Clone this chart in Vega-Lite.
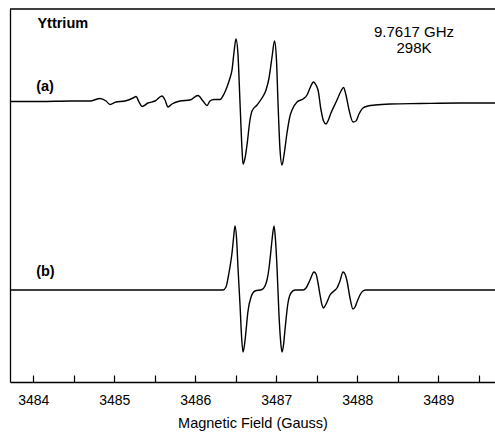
{
  "$schema": "https://vega.github.io/schema/vega-lite/v6.json",
  "width": 485,
  "height": 373,
  "autosize": {"type": "none"},
  "padding": {"left": 10, "top": 9, "right": 0, "bottom": 54},
  "background": "white",
  "config": {
    "view": {"stroke": null},
    "font": "Liberation Sans",
    "axis": {"domainColor": "black", "domainWidth": 1.3, "grid": false, "tickColor": "black"}
  },
  "datasets": {
    "spectra": [
      {"field": 3483.712, "signal": 280.5, "trace": "a"},
      {"field": 3484.083, "signal": 280.5, "trace": "a"},
      {"field": 3484.453, "signal": 281, "trace": "a"},
      {"field": 3484.700, "signal": 281, "trace": "a"},
      {"field": 3484.823, "signal": 283.5, "trace": "a"},
      {"field": 3484.898, "signal": 281, "trace": "a"},
      {"field": 3484.947, "signal": 277.5, "trace": "a"},
      {"field": 3485.021, "signal": 280, "trace": "a"},
      {"field": 3485.132, "signal": 281, "trace": "a"},
      {"field": 3485.231, "signal": 284, "trace": "a"},
      {"field": 3485.268, "signal": 285.5, "trace": "a"},
      {"field": 3485.305, "signal": 280, "trace": "a"},
      {"field": 3485.342, "signal": 275.5, "trace": "a"},
      {"field": 3485.416, "signal": 279, "trace": "a"},
      {"field": 3485.502, "signal": 281, "trace": "a"},
      {"field": 3485.589, "signal": 286, "trace": "a"},
      {"field": 3485.626, "signal": 282, "trace": "a"},
      {"field": 3485.663, "signal": 275, "trace": "a"},
      {"field": 3485.712, "signal": 278, "trace": "a"},
      {"field": 3485.811, "signal": 281, "trace": "a"},
      {"field": 3485.935, "signal": 282, "trace": "a"},
      {"field": 3486.033, "signal": 286.5, "trace": "a"},
      {"field": 3486.095, "signal": 281, "trace": "a"},
      {"field": 3486.144, "signal": 276.5, "trace": "a"},
      {"field": 3486.181, "signal": 281, "trace": "a"},
      {"field": 3486.231, "signal": 282.5, "trace": "a"},
      {"field": 3486.305, "signal": 282.5, "trace": "a"},
      {"field": 3486.354, "signal": 288, "trace": "a"},
      {"field": 3486.391, "signal": 295, "trace": "a"},
      {"field": 3486.428, "signal": 304, "trace": "a"},
      {"field": 3486.453, "signal": 312, "trace": "a"},
      {"field": 3486.478, "signal": 330, "trace": "a"},
      {"field": 3486.502, "signal": 343, "trace": "a"},
      {"field": 3486.527, "signal": 327, "trace": "a"},
      {"field": 3486.552, "signal": 279, "trace": "a"},
      {"field": 3486.577, "signal": 232, "trace": "a"},
      {"field": 3486.589, "signal": 218, "trace": "a"},
      {"field": 3486.614, "signal": 224, "trace": "a"},
      {"field": 3486.638, "signal": 237, "trace": "a"},
      {"field": 3486.675, "signal": 262, "trace": "a"},
      {"field": 3486.700, "signal": 271, "trace": "a"},
      {"field": 3486.762, "signal": 277, "trace": "a"},
      {"field": 3486.823, "signal": 284, "trace": "a"},
      {"field": 3486.873, "signal": 292, "trace": "a"},
      {"field": 3486.910, "signal": 304, "trace": "a"},
      {"field": 3486.947, "signal": 325, "trace": "a"},
      {"field": 3486.978, "signal": 341, "trace": "a"},
      {"field": 3487.002, "signal": 322, "trace": "a"},
      {"field": 3487.021, "signal": 279, "trace": "a"},
      {"field": 3487.046, "signal": 232, "trace": "a"},
      {"field": 3487.070, "signal": 217, "trace": "a"},
      {"field": 3487.095, "signal": 227, "trace": "a"},
      {"field": 3487.132, "signal": 249, "trace": "a"},
      {"field": 3487.169, "signal": 266, "trace": "a"},
      {"field": 3487.194, "signal": 272, "trace": "a"},
      {"field": 3487.256, "signal": 280, "trace": "a"},
      {"field": 3487.330, "signal": 283, "trace": "a"},
      {"field": 3487.379, "signal": 287, "trace": "a"},
      {"field": 3487.416, "signal": 294, "trace": "a"},
      {"field": 3487.459, "signal": 300, "trace": "a"},
      {"field": 3487.490, "signal": 297, "trace": "a"},
      {"field": 3487.515, "signal": 292, "trace": "a"},
      {"field": 3487.552, "signal": 272, "trace": "a"},
      {"field": 3487.583, "signal": 261, "trace": "a"},
      {"field": 3487.614, "signal": 258, "trace": "a"},
      {"field": 3487.638, "signal": 261, "trace": "a"},
      {"field": 3487.675, "signal": 269, "trace": "a"},
      {"field": 3487.749, "signal": 282, "trace": "a"},
      {"field": 3487.799, "signal": 291, "trace": "a"},
      {"field": 3487.830, "signal": 294.5, "trace": "a"},
      {"field": 3487.860, "signal": 287, "trace": "a"},
      {"field": 3487.898, "signal": 272, "trace": "a"},
      {"field": 3487.947, "signal": 260, "trace": "a"},
      {"field": 3487.984, "signal": 261, "trace": "a"},
      {"field": 3488.021, "signal": 268, "trace": "a"},
      {"field": 3488.070, "signal": 274, "trace": "a"},
      {"field": 3488.132, "signal": 276, "trace": "a"},
      {"field": 3488.219, "signal": 277, "trace": "a"},
      {"field": 3488.404, "signal": 278, "trace": "a"},
      {"field": 3488.774, "signal": 278.5, "trace": "a"},
      {"field": 3489.268, "signal": 279, "trace": "a"},
      {"field": 3489.700, "signal": 279, "trace": "a"},
      {"field": 3483.712, "signal": 92, "trace": "b"},
      {"field": 3486.342, "signal": 92, "trace": "b"},
      {"field": 3486.379, "signal": 95, "trace": "b"},
      {"field": 3486.404, "signal": 104, "trace": "b"},
      {"field": 3486.428, "signal": 115, "trace": "b"},
      {"field": 3486.453, "signal": 129, "trace": "b"},
      {"field": 3486.472, "signal": 144, "trace": "b"},
      {"field": 3486.490, "signal": 156, "trace": "b"},
      {"field": 3486.509, "signal": 144, "trace": "b"},
      {"field": 3486.527, "signal": 114, "trace": "b"},
      {"field": 3486.552, "signal": 77, "trace": "b"},
      {"field": 3486.570, "signal": 47, "trace": "b"},
      {"field": 3486.589, "signal": 30, "trace": "b"},
      {"field": 3486.607, "signal": 37, "trace": "b"},
      {"field": 3486.627, "signal": 52, "trace": "b"},
      {"field": 3486.649, "signal": 70, "trace": "b"},
      {"field": 3486.688, "signal": 85, "trace": "b"},
      {"field": 3486.737, "signal": 91, "trace": "b"},
      {"field": 3486.823, "signal": 92.5, "trace": "b"},
      {"field": 3486.860, "signal": 96, "trace": "b"},
      {"field": 3486.885, "signal": 102, "trace": "b"},
      {"field": 3486.910, "signal": 114, "trace": "b"},
      {"field": 3486.928, "signal": 127, "trace": "b"},
      {"field": 3486.947, "signal": 142, "trace": "b"},
      {"field": 3486.972, "signal": 156, "trace": "b"},
      {"field": 3486.990, "signal": 142, "trace": "b"},
      {"field": 3487.009, "signal": 114, "trace": "b"},
      {"field": 3487.033, "signal": 67, "trace": "b"},
      {"field": 3487.052, "signal": 42, "trace": "b"},
      {"field": 3487.070, "signal": 30, "trace": "b"},
      {"field": 3487.089, "signal": 37, "trace": "b"},
      {"field": 3487.107, "signal": 52, "trace": "b"},
      {"field": 3487.144, "signal": 79, "trace": "b"},
      {"field": 3487.181, "signal": 89, "trace": "b"},
      {"field": 3487.231, "signal": 92, "trace": "b"},
      {"field": 3487.330, "signal": 92, "trace": "b"},
      {"field": 3487.367, "signal": 94, "trace": "b"},
      {"field": 3487.416, "signal": 102, "trace": "b"},
      {"field": 3487.465, "signal": 110, "trace": "b"},
      {"field": 3487.490, "signal": 108, "trace": "b"},
      {"field": 3487.515, "signal": 99, "trace": "b"},
      {"field": 3487.540, "signal": 87, "trace": "b"},
      {"field": 3487.564, "signal": 77, "trace": "b"},
      {"field": 3487.583, "signal": 74, "trace": "b"},
      {"field": 3487.601, "signal": 76, "trace": "b"},
      {"field": 3487.626, "signal": 80, "trace": "b"},
      {"field": 3487.663, "signal": 87, "trace": "b"},
      {"field": 3487.712, "signal": 91, "trace": "b"},
      {"field": 3487.749, "signal": 94, "trace": "b"},
      {"field": 3487.786, "signal": 101, "trace": "b"},
      {"field": 3487.823, "signal": 110, "trace": "b"},
      {"field": 3487.848, "signal": 108, "trace": "b"},
      {"field": 3487.873, "signal": 101, "trace": "b"},
      {"field": 3487.910, "signal": 84, "trace": "b"},
      {"field": 3487.947, "signal": 73, "trace": "b"},
      {"field": 3487.972, "signal": 75, "trace": "b"},
      {"field": 3487.996, "signal": 80, "trace": "b"},
      {"field": 3488.033, "signal": 87, "trace": "b"},
      {"field": 3488.070, "signal": 91, "trace": "b"},
      {"field": 3488.107, "signal": 92, "trace": "b"},
      {"field": 3489.700, "signal": 92, "trace": "b"}
    ],
    "boldLabels": [
      {"text": "Yttrium", "field": 3484.05, "signal": 358},
      {"text": "(a)", "field": 3484.035, "signal": 295},
      {"text": "(b)", "field": 3484.035, "signal": 110}
    ],
    "plainLabels": [
      {"text": "9.7617 GHz", "field": 3488.70, "signal": 350},
      {"text": "298K", "field": 3488.70, "signal": 334}
    ]
  },
  "layer": [
    {
      "data": {"name": "spectra"},
      "mark": {"type": "line", "interpolate": "monotone", "strokeWidth": 1.4, "color": "black"},
      "encoding": {
        "x": {
          "field": "field", "type": "quantitative",
          "scale": {"domain": [3483.712, 3489.7], "nice": false, "zero": false},
          "axis": {
            "title": "Magnetic Field (Gauss)",
            "titleFont": "Liberation Sans", "titleFontSize": 14.5, "titleFontWeight": "normal", "titleColor": "black", "titlePadding": 9,
            "values": [3484, 3484.5, 3485, 3485.5, 3486, 3486.5, 3487, 3487.5, 3488, 3488.5, 3489, 3489.5],
            "labelExpr": "datum.value % 1 == 0 ? format(datum.value, 'd') : ''",
            "labelFontSize": 14, "labelColor": "black", "labelPadding": 18,
            "tickSize": -7, "tickWidth": 1.2
          }
        },
        "y": {
          "field": "signal", "type": "quantitative",
          "scale": {"domain": [0, 373], "nice": false, "zero": false},
          "axis": {"title": null, "labels": false, "ticks": false}
        },
        "detail": {"field": "trace", "type": "nominal"}
      }
    },
    {
      "data": {"name": "boldLabels"},
      "mark": {"type": "text", "align": "left", "baseline": "middle", "fontWeight": "bold", "fontSize": 14.5, "color": "black", "font": "Liberation Sans"},
      "encoding": {
        "x": {"field": "field", "type": "quantitative"},
        "y": {"field": "signal", "type": "quantitative"},
        "text": {"field": "text"}
      }
    },
    {
      "data": {"name": "plainLabels"},
      "mark": {"type": "text", "align": "center", "baseline": "middle", "fontSize": 15, "color": "black", "font": "Liberation Sans"},
      "encoding": {
        "x": {"field": "field", "type": "quantitative"},
        "y": {"field": "signal", "type": "quantitative"},
        "text": {"field": "text"}
      }
    },
    {
      "data": {"values": [{}]},
      "mark": {"type": "rule", "color": "black", "strokeWidth": 1.3},
      "encoding": {
        "x": {"datum": 3483.712, "type": "quantitative"},
        "x2": {"datum": 3489.7},
        "y": {"datum": 373, "type": "quantitative"}
      }
    }
  ]
}
